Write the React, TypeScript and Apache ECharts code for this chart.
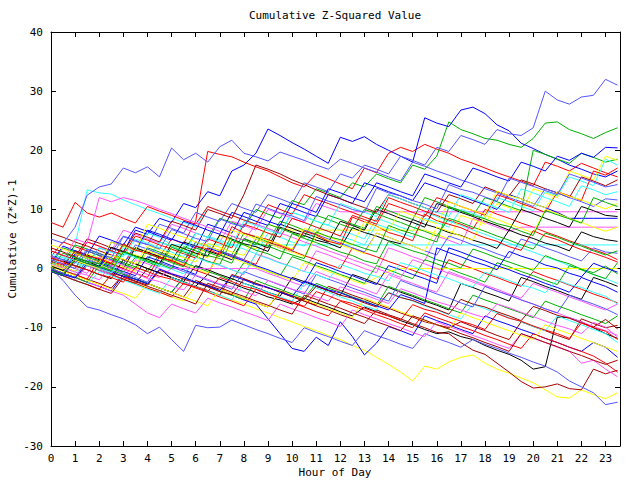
import React, { useEffect, useRef } from "react";
import * as echarts from "echarts";

const TITLE = "Cumulative Z-Squared Value";
const X_NAME = "Hour of Day";
const Y_NAME = "Cumulative (Z*Z)-1";

const HOURS = [
  0, 0.5, 1, 1.5, 2, 2.5, 3, 3.5, 4, 4.5, 5, 5.5,
  6, 6.5, 7, 7.5, 8, 8.5, 9, 9.5, 10, 10.5, 11, 11.5,
  12, 12.5, 13, 13.5, 14, 14.5, 15, 15.5, 16, 16.5, 17, 17.5,
  18, 18.5, 19, 19.5, 20, 20.5, 21, 21.5, 22, 22.5, 23, 23.5,
];

// red
const R1 = [2.0, 4.5, 3.7, 3.0, 2.2, 1.5, 0.8, 3.5, 2.8, 2.0, 5.0, 4.2,
  8.0, 19.8, 19.3, 18.9, 18.0, 17.2, 16.5, 15.5, 14.5, 13.8, 16.0, 15.2,
  14.3, 13.5, 17.0, 16.2, 19.5, 20.5, 19.8, 21.0, 20.2, 19.5, 18.5, 17.8,
  17.0, 16.2, 15.5, 14.8, 14.0, 18.0, 17.3, 16.5, 17.8, 17.0, 16.2, 15.5];
const R2 = [7.8, 7.0, 11.2, 9.4, 8.7, 9.4, 8.5, 7.7, 10.5, 9.7, 9.0, 8.2,
  7.5, 10.5, 9.7, 9.0, 8.2, 7.5, 10.8, 10.0, 9.2, 12.5, 11.7, 11.0,
  10.2, 9.5, 8.7, 8.0, 12.0, 11.2, 10.5, 9.7, 9.0, 8.2, 7.5, 6.7,
  10.0, 9.2, 8.5, 7.7, 7.0, 6.2, 5.5, 4.7, 4.0, 3.2, 2.5, 1.5];
const R3 = [0.5, -0.3, -1.0, -1.8, 1.5, 0.8, 0.0, -0.8, -1.5, 2.0, 1.2, 0.5,
  -0.3, -1.0, 3.0, 2.2, 1.5, 0.7, 4.5, 3.8, 3.0, 2.2, 1.5, 0.7,
  0.0, 3.5, 2.7, 2.0, 1.2, 0.5, -0.3, -1.0, -1.8, 1.5, 0.7, 0.0,
  -0.8, -1.5, -2.3, -3.0, -0.5, -1.3, -2.0, -2.8, -3.5, -4.3, -5.0, -5.8];
const R4 = [-0.5, -1.2, -2.0, -2.7, -3.5, -1.0, -1.8, -2.5, -3.3, -4.0, -4.8, -2.5,
  -3.3, -4.0, -4.8, -5.5, -6.3, -3.5, -4.3, -5.0, -5.8, -6.5, -7.3, -8.0,
  -5.5, -6.3, -7.0, -7.8, -8.5, -9.3, -10.0, -7.5, -8.3, -9.0, -9.8, -10.5,
  -11.3, -12.0, -12.8, -13.5, -11.0, -11.8, -12.5, -13.3, -14.0, -14.8, -16.0, -17.5];
const R5 = [3.0, 2.2, 1.5, 4.5, 3.8, 3.0, 2.3, 5.5, 4.8, 4.0, 3.3, 2.5,
  1.8, 5.0, 4.3, 3.5, 7.5, 6.8, 6.0, 5.3, 8.5, 7.8, 7.0, 6.3,
  5.5, 9.0, 8.3, 7.5, 11.0, 10.3, 9.5, 8.8, 12.0, 11.3, 10.5, 9.8,
  9.0, 12.5, 11.8, 11.0, 10.3, 9.5, 13.0, 12.3, 11.5, 16.5, 15.8, 17.0];
const R6 = [1.2, 0.6, 2.9, 2.1, 1.7, 0.9, 4.2, 3.1, 2.6, 1.8, 1.4, 0.5,
  3.8, 3.3, 2.4, 7.1, 6.0, 5.4, 4.9, 4.0, 3.2, 6.3, 5.7, 4.6,
  4.1, 8.7, 7.9, 7.2, 6.1, 5.5, 4.7, 9.2, 8.1, 7.5, 6.9, 6.0,
  5.2, 4.6, 3.7, 3.1, 6.4, 5.5, 4.9, 4.0, 3.2, 2.6, 1.9, 1.1];
const R7 = [1.8, 1.1, 0.4, -0.2, -1.0, -1.5, -2.3, 0.2, -0.5, -1.3, -1.8, -2.6,
  -3.1, -3.9, -1.5, -2.2, -3.0, -3.5, -4.3, -5.0, -5.6, -6.4, -3.9, -4.6,
  -5.4, -5.9, -6.7, -7.4, -8.0, -8.7, -6.1, -6.9, -7.4, -8.2, -8.9, -9.5,
  -10.3, -7.6, -8.4, -8.9, -9.7, -10.4, -11.0, -11.8, -9.2, -10.0, -10.6, -12.0];

// green
const G1 = [1.0, 0.3, -0.5, 2.0, 1.2, 0.5, 3.0, 2.2, 1.5, 4.5, 3.8, 3.0,
  6.0, 5.3, 8.5, 7.8, 7.0, 10.0, 9.2, 8.5, 11.5, 10.8, 13.5, 12.8,
  12.0, 14.5, 13.8, 16.0, 15.2, 14.5, 17.5, 16.8, 19.0, 24.8, 23.5, 22.8,
  22.0, 21.7, 21.0, 20.5, 22.0, 24.6, 24.8, 23.5, 22.8, 22.0, 23.0, 23.8];
const G2 = [1.5, 0.8, 0.0, 3.0, 2.2, 1.5, 0.7, 0.0, 3.5, 2.8, 2.0, 1.3,
  4.5, 3.8, 3.0, 2.3, 6.0, 5.3, 4.5, 8.0, 7.3, 6.5, 5.8, 9.0,
  8.3, 7.5, 6.8, 10.5, 9.8, 9.0, 8.3, 12.0, 11.3, 10.5, 9.8, 9.0,
  12.0, 11.3, 10.5, 9.8, 20.0, 19.3, 18.5, 17.8, 19.5, 18.8, 18.0, 18.5];
const G3 = [2.0, 1.2, 4.0, 3.3, 2.5, 1.8, 1.0, 0.3, -0.5, 2.5, 1.8, 1.0,
  0.3, -0.5, -1.2, -2.0, 1.0, 0.3, -0.5, -1.2, 2.0, 1.3, 0.5, -0.2,
  -1.0, -1.7, -2.5, 0.5, -0.2, -1.0, -1.7, 1.5, 0.8, 0.0, -0.8, -1.5,
  -2.3, 1.0, 0.3, -0.5, -1.2, -2.0, -2.7, 0.5, -0.2, -1.0, -1.7, 1.0];
const G4 = [0.0, -0.8, -1.5, -2.3, 0.5, -0.3, -1.0, -1.8, -2.5, -3.3, -4.0, -1.5,
  -2.3, -3.0, -3.8, -4.5, -5.3, -2.0, -2.8, -3.5, -4.3, -5.0, -2.5, -3.3,
  -4.0, -4.8, -5.5, -6.3, -3.0, -3.8, -4.5, -5.3, -6.0, -6.8, -7.5, -4.5,
  -5.3, -6.0, -6.8, -7.5, -8.3, -5.5, -6.3, -7.0, -7.8, -8.5, -9.3, -8.0];
const G5 = [0.8, 3.5, 2.8, 2.0, 1.3, 0.5, 4.0, 3.3, 2.5, 1.8, 1.0, 0.3,
  3.5, 2.8, 2.0, 5.5, 4.8, 4.0, 7.5, 6.8, 6.0, 5.3, 9.0, 8.3,
  7.5, 6.8, 10.0, 9.3, 8.5, 7.8, 7.0, 6.3, 5.5, 8.5, 7.8, 7.0,
  6.3, 5.5, 4.8, 4.0, 3.3, 6.0, 5.3, 4.5, 3.8, 3.0, 2.3, 3.0];
const G6 = [0.2, 2.6, 1.9, 1.2, 0.8, 0.1, -0.6, 1.9, 1.1, 0.4, 3.6, 2.8,
  2.1, 1.2, 0.7, 4.8, 4.0, 3.1, 2.5, 1.6, 5.9, 5.1, 4.4, 3.6,
  2.8, 2.2, 1.3, 0.8, 4.6, 3.7, 3.0, 2.4, 1.5, 0.9, 0.1, 3.3,
  2.6, 1.8, 1.1, 0.4, -0.3, 2.2, 1.4, 0.8, -0.1, -0.7, 0.4, -0.9];
const G7 = [-0.4, -1.1, 1.6, 0.9, 0.3, -0.4, 2.8, 2.1, 1.3, 0.8, 0.0, 3.7,
  3.0, 2.2, 1.7, 0.9, 5.1, 4.3, 3.8, 3.0, 2.3, 1.7, 6.2, 5.4,
  4.9, 4.1, 3.4, 2.8, 7.3, 6.5, 5.9, 5.2, 4.5, 10.4, 9.7, 9.0,
  8.4, 7.6, 7.1, 6.3, 5.6, 9.8, 9.1, 8.4, 7.7, 12.0, 11.2, 10.5];

// blue
const B1 = [0.0, -0.8, 2.5, 1.8, 1.0, 3.5, 2.8, 6.5, 5.8, 8.5, 7.8, 11.0,
  10.3, 13.0, 12.3, 16.5, 17.5, 19.5, 23.6, 22.5, 21.3, 20.2, 19.0, 17.8,
  22.2, 21.5, 22.3, 21.0, 20.0, 19.0, 18.0, 25.5, 24.6, 24.0, 26.8, 27.3,
  26.2, 24.3, 23.3, 21.2, 20.3, 19.3, 18.5, 17.5, 16.8, 16.0, 15.5, 16.5];
const B2 = [0.0, -0.8, -1.5, -2.3, -3.0, -3.8, -1.0, -1.8, -2.5, -3.3, -4.0, -1.5,
  -2.3, -3.0, -3.8, -4.5, -5.3, -6.0, -8.5, -11.0, -13.5, -14.0, -11.6, -13.0,
  -9.0, -11.5, -14.6, -12.6, -9.8, -10.5, -11.3, -8.0, -8.8, -9.5, -10.3, -11.0,
  -8.0, -8.8, -9.5, -10.3, -11.0, -11.8, -12.5, -13.3, -14.0, -12.5, -13.3, -15.0];
const B3 = [1.0, 3.8, 3.0, 2.3, 5.5, 4.8, 4.0, 7.0, 6.3, 5.5, 4.8, 8.0,
  7.3, 6.5, 5.8, 9.5, 8.8, 8.0, 7.3, 11.0, 10.3, 9.5, 8.8, 12.5,
  11.8, 11.0, 14.5, 13.8, 13.0, 12.3, 11.5, 14.5, 13.8, 13.0, 12.3, 11.5,
  10.8, 10.0, 12.5, 11.8, 11.0, 10.3, 9.5, 8.5, 8.5, 8.5, 8.5, 8.5];
const B4 = [0.5, -0.3, 2.5, 1.8, 1.0, 0.3, -0.5, -1.2, 2.0, 1.3, 0.5, -0.2,
  -1.0, 3.5, 2.8, 2.0, 1.3, 0.5, -0.2, -1.0, -1.7, -2.5, 1.0, 0.3,
  -0.5, -1.2, -2.0, -2.7, 0.5, -0.2, -1.0, -1.7, -2.5, 3.5, 2.8, 2.0,
  1.3, 0.5, -0.2, -1.0, -1.7, -2.5, -3.2, -4.0, -1.5, -2.3, -3.0, -4.0];
const B5 = [-0.5, -1.2, 1.5, 0.8, 0.0, 4.5, 3.8, 3.0, 6.5, 5.8, 5.0, 4.3,
  3.5, 7.5, 6.8, 6.0, 9.5, 8.8, 8.0, 7.3, 11.0, 10.3, 9.5, 13.5,
  12.8, 12.0, 11.3, 14.5, 13.8, 13.0, 12.3, 16.0, 15.3, 14.5, 13.8, 17.0,
  16.3, 15.5, 14.8, 18.0, 17.3, 16.5, 19.0, 18.3, 19.5, 18.8, 20.5, 20.4];
const B6 = [-0.3, -1.0, -1.6, 0.9, 0.2, -0.5, -1.3, -1.8, -2.6, -0.1, -0.9, -1.5,
  -2.3, -2.9, -3.7, -1.2, -1.9, -2.7, -3.2, -4.0, -4.7, -2.1, -2.8, -3.6,
  -4.1, -4.9, -5.6, -6.3, -7.0, -4.4, -5.1, -5.9, 3.5, 2.7, 2.0, 1.2,
  0.6, -0.2, 2.9, 2.1, 1.5, 0.6, 0.1, -0.8, -1.4, 0.9, 0.1, -0.6];

// magenta
const M1 = [3.0, 2.3, 1.5, 4.5, 3.8, 3.0, 6.5, 5.8, 5.0, 4.3, 7.5, 6.8,
  6.0, 5.3, 4.5, 8.0, 7.3, 6.5, 10.0, 9.3, 8.5, 7.8, 11.0, 10.3,
  9.6, 9.6, 9.6, 9.6, 9.6, 9.6, 9.6, 9.6, 9.6, 9.6, 9.6, 9.6,
  9.6, 9.6, 9.6, 9.6, 9.6, 9.6, 9.6, 9.6, 9.6, 9.6, 9.6, 9.6];
const M2 = [-0.5, -1.2, -2.0, 0.5, -0.3, -1.0, -1.8, 1.5, 0.8, 0.0, -0.8, -1.5,
  2.0, 1.3, 0.5, -0.2, -1.0, 2.5, 1.8, 1.0, 0.3, -0.5, 3.0, 2.3,
  1.5, 0.8, 0.0, -0.7, 3.5, 2.8, 2.0, 1.3, 5.5, 4.8, 4.0, 8.5,
  7.8, 7.0, 6.3, 7.0, 7.0, 7.0, 7.0, 7.0, 7.0, 7.0, 7.0, 7.0];
const M3 = [0.0, -0.8, -1.5, -2.3, -3.0, -3.8, -4.5, -6.0, -7.5, -8.3, -6.0, -6.8,
  -7.5, -5.0, -5.8, -6.5, -7.3, -8.0, -8.8, -6.0, -6.8, -7.5, -8.3, -9.0,
  -9.8, -7.0, -7.8, -8.5, -9.3, -10.0, -10.8, -11.5, -9.0, -9.8, -10.5, -11.3,
  -12.0, -12.8, -13.5, -11.0, -11.8, -12.5, -13.3, -14.0, -16.0, -15.5, -17.0, -18.3];
const M4 = [1.5, 0.8, 0.0, -0.8, 2.0, 1.3, 0.5, -0.2, -1.0, -1.5, 0.0, 0.0,
  0.0, 0.0, 0.0, 0.0, 0.0, 0.0, -0.8, -1.5, -2.3, -3.0, -0.5, -1.3,
  -2.0, -2.8, -3.5, -4.3, -1.0, -1.8, -2.5, -3.3, -4.0, -0.5, -1.3, -2.0,
  -2.8, -3.5, -4.3, -5.0, -2.5, -3.3, -4.0, -4.8, -5.5, -6.3, -7.0, -6.0];
const M5 = [2.0, 1.3, 5.0, 4.3, 12.0, 11.3, 12.0, 11.5, 10.8, 10.0, 9.3, 8.5,
  7.8, 7.0, 6.3, 5.5, 4.8, 7.5, 6.8, 6.0, 5.3, 4.5, 3.8, 3.0,
  2.3, 1.5, 0.8, 0.0, -0.7, -1.5, 1.5, 0.8, 0.0, -0.8, -1.5, -2.3,
  -3.0, -3.8, -4.5, -5.3, -6.0, -6.8, -7.5, -8.3, -9.0, -9.8, -10.5, -11.3];
const M6 = [0.7, 0.1, -0.6, -1.1, -1.9, 0.6, -0.2, -0.8, -1.7, -2.2, -3.0, -3.6,
  -1.1, -1.8, -2.6, -3.1, -3.9, -4.6, -2.0, -2.7, -3.5, -4.0, -4.8, -5.5,
  -3.1, -3.8, -4.4, -5.2, -5.9, -3.4, -4.1, -4.9, -5.6, -6.2, -7.0, -7.7,
  -8.3, -6.0, -6.6, -7.4, -8.1, -8.9, -9.6, -10.2, -11.0, -9.1, -9.9, -11.6];

// cyan
const C1 = [1.0, 0.3, 4.0, 13.3, 12.8, 12.6, 11.6, 10.8, 10.0, 9.3, 8.5, 7.8,
  7.0, 10.5, 9.8, 9.0, 8.3, 7.5, 6.8, 6.0, 9.5, 8.8, 8.0, 7.3,
  6.5, 5.8, 5.0, 8.5, 7.8, 7.0, 6.3, 9.5, 8.8, 8.0, 7.3, 6.5,
  5.8, 5.0, 4.3, 3.5, 2.8, 2.0, 1.3, 0.5, -0.2, -1.0, -1.7, -2.5];
const C2 = [0.5, -0.3, -1.0, 2.0, 1.3, 0.5, 3.5, 2.8, 6.0, 5.3, 4.0, 4.0,
  4.0, 4.0, 4.0, 4.0, 4.0, 4.0, 4.0, 4.0, 4.0, 4.0, 4.0, 4.0,
  4.0, 4.0, 4.0, 4.0, 4.0, 4.0, 4.0, 4.0, 4.0, 4.0, 4.0, 4.0,
  4.0, 4.0, 4.0, 4.0, 4.0, 4.0, 4.0, 4.0, 4.0, 4.0, 4.0, 4.0];
const C3 = [0.0, -0.8, 2.0, 1.3, 0.5, 3.5, 2.8, 2.0, 1.3, 4.5, 3.8, 3.0,
  2.3, 5.5, 4.8, 4.0, 3.3, 2.5, 6.0, 5.3, 4.5, 3.8, 7.0, 6.3,
  5.5, 4.8, 4.0, 7.5, 6.8, 6.0, 5.3, 8.5, 7.8, 7.0, 10.0, 9.3,
  8.5, 12.0, 11.3, 10.5, 9.8, 13.0, 12.3, 15.5, 14.8, 14.0, 18.5, 17.5];
const C4 = [-0.5, -1.2, -2.0, -2.7, -0.5, -1.2, -2.0, -2.7, -3.5, -4.2, -1.5, -2.3,
  -3.0, -3.8, -4.5, -5.3, -2.5, -3.3, -4.0, -4.8, -5.5, -2.5, -3.3, -4.0,
  -4.8, -5.5, -6.3, -7.0, -4.0, -4.8, -5.5, -6.3, -7.0, -7.8, -8.5, -6.0,
  -6.8, -7.5, -8.3, -9.0, -9.8, -10.5, -8.0, -8.8, -9.5, -10.3, -11.0, -12.5];
const C5 = [2.5, 1.8, 1.0, 0.3, 3.5, 2.8, 2.0, 5.0, 4.3, 3.5, 2.8, 2.0,
  6.0, 5.3, 4.5, 3.8, 8.0, 7.3, 6.5, 5.8, 9.5, 8.8, 8.0, 7.3,
  11.0, 10.3, 9.5, 8.8, 12.5, 11.8, 11.0, 10.3, 9.5, 8.8, 12.5, 11.8,
  11.0, 10.3, 9.5, 13.5, 12.8, 12.0, 11.3, 10.5, 14.0, 13.3, 12.5, 13.0];
const C6 = [0.3, 2.0, 1.4, 0.6, 0.0, -0.7, 2.6, 1.8, 1.3, 0.5, -0.1, -0.9,
  1.9, 1.1, 0.6, -0.2, -0.9, 2.4, 1.7, 0.9, 0.3, -0.5, -1.0, -1.8,
  0.7, 0.0, -0.8, -1.3, -2.1, 1.0, 0.4, -0.4, -1.1, -1.7, -2.5, -3.1,
  -0.6, -1.3, -2.0, -2.8, -3.3, -4.1, -1.9, -2.7, -3.2, -4.0, -4.7, -6.0];

// yellow
const Y1 = [-0.5, -1.2, -2.0, -2.7, -3.5, -1.0, -1.8, -2.5, -3.3, -4.0, -4.8, -5.5,
  -3.0, -3.8, -4.5, -5.3, -6.0, -6.8, -7.5, -8.3, -9.0, -9.8, -10.5, -11.3,
  -12.0, -13.0, -13.8, -15.0, -16.2, -17.5, -19.0, -16.5, -17.0, -15.8, -15.0, -14.6,
  -16.0, -17.0, -17.7, -18.5, -19.3, -20.5, -21.7, -21.9, -20.5, -21.3, -22.0, -21.0];
const Y2 = [0.0, -0.8, 2.0, 1.3, 0.5, -0.2, 3.0, 2.3, 1.5, 0.8, 4.0, 3.3,
  2.5, 1.8, 5.5, 4.8, 4.0, 3.3, 7.5, 6.8, 6.5, 6.5, 6.5, 6.5,
  6.5, 6.5, 6.5, 6.5, 6.5, 6.5, 6.5, 6.5, 5.8, 5.0, 9.0, 8.3,
  7.5, 11.0, 10.3, 9.5, 13.5, 12.8, 12.0, 16.5, 15.8, 15.0, 19.0, 18.3];
const Y3 = [1.0, 0.3, -0.5, 2.5, 1.8, 1.0, 0.3, -0.5, 3.0, 2.3, 1.5, 0.8,
  0.0, -0.8, 2.5, 1.8, 1.0, 0.3, -0.5, -1.2, -2.0, 1.0, 0.3, -0.5,
  -1.2, -2.0, -2.7, -1.5, -0.5, 0.0, 0.0, 0.0, 0.0, 0.0, 0.0, 0.0,
  0.0, 0.0, 0.0, 0.0, 0.0, 0.0, 0.0, 0.0, 0.0, 0.0, 0.0, 0.0];
const Y4 = [0.3, -0.5, -1.2, -2.0, -2.7, -3.5, -4.2, -5.0, -2.5, -3.3, -4.0, -4.8,
  -5.5, -6.3, -3.5, -4.3, -5.0, -5.8, -6.5, -3.8, -4.5, -5.3, -6.0, -6.8,
  -7.5, -8.3, -5.0, -5.8, -6.5, -7.3, -8.0, -8.8, -9.5, -10.3, -7.5, -8.3,
  -9.0, -9.8, -10.5, -11.3, -12.0, -9.5, -10.3, -11.0, -11.8, -12.5, -13.3, -14.0];
const Y5 = [4.0, 3.3, 2.5, 1.8, 1.0, 4.5, 3.8, 3.0, 7.5, 6.8, 6.0, 5.3,
  4.5, 3.8, 3.0, 6.5, 5.8, 5.0, 4.3, 3.5, 2.8, 2.0, 5.5, 4.8,
  4.0, 3.3, 2.5, 6.0, 5.3, 4.5, 3.8, 3.0, 7.0, 6.3, 5.5, 4.8,
  9.0, 8.3, 7.5, 6.8, 6.0, 10.0, 9.3, 8.5, 7.8, 7.0, 6.3, 7.0];
const Y6 = [0.6, -0.1, 1.4, 0.7, 0.0, 2.2, 1.6, 0.8, 3.9, 3.2, 2.4, 1.9,
  1.1, 4.3, 3.6, 2.8, 2.2, 5.5, 4.7, 4.1, 3.3, 6.8, 6.0, 5.4,
  4.6, 4.0, 7.9, 7.1, 6.5, 9.7, 9.0, 8.2, 7.6, 11.3, 10.5, 9.8,
  9.2, 13.1, 12.3, 11.8, 11.0, 10.3, 13.0, 12.2, 11.6, 10.8, 10.1, 11.0];

// black
const K1 = [0.0, -0.8, -1.5, 0.5, -0.3, -1.0, -1.8, -2.5, 0.0, -0.8, -1.5, -2.3,
  -3.0, -1.0, -1.8, -2.5, -3.3, -4.0, -4.8, -5.3, -6.0, -5.0, -5.8, -6.5,
  -7.3, -8.0, -6.5, -7.3, -8.0, -8.8, -9.5, -10.3, -11.0, -10.7, -11.5, -12.0,
  -13.0, -13.8, -14.5, -15.5, -17.0, -16.6, -8.2, -8.3, -9.0, -10.0, -11.0, -11.8];
const K2 = [1.0, 0.3, 3.0, 2.3, 1.5, 0.8, 0.0, 3.5, 2.8, 2.0, 1.3, 4.5,
  3.8, 3.0, 2.3, 1.5, 5.0, 4.3, 3.5, 7.5, 6.8, 6.0, 5.3, 4.5,
  8.0, 7.3, 6.5, 10.0, 9.3, 8.5, 7.8, 7.0, 11.0, 10.3, 9.5, 8.8,
  8.0, 7.3, 6.5, 10.0, 9.3, 8.5, 7.8, 7.0, 10.5, 9.8, 9.0, 8.8];
const K3 = [2.0, 1.3, 0.5, -0.2, -1.0, -1.7, 1.5, 0.8, 0.0, -0.7, -1.5, -2.2,
  0.5, -0.2, -1.0, -1.7, -2.5, -3.2, -4.0, -4.7, -1.5, -2.2, -3.0, -3.7,
  -4.5, -1.0, -1.7, -2.5, -3.2, -4.0, -4.7, -5.5, -6.2, -7.0, -2.5, -3.2,
  -4.0, -4.7, -5.5, -1.5, -2.2, -3.0, -3.7, -4.5, -5.2, -1.5, -2.2, -3.0];
const K4 = [0.4, -0.3, 1.8, 1.2, 0.4, 3.6, 2.9, 2.1, 1.6, 0.8, 4.1, 3.4,
  2.6, 2.1, 5.7, 5.0, 4.2, 3.7, 2.9, 7.0, 6.2, 5.6, 4.8, 4.3,
  3.5, 6.9, 6.1, 5.5, 4.7, 4.2, 8.3, 7.5, 6.9, 6.1, 5.6, 4.8,
  4.2, 3.4, 6.5, 5.7, 5.1, 4.3, 3.8, 3.0, 6.2, 5.4, 4.9, 4.6];

// dark red
const D1 = [0.5, -0.3, -1.0, -1.8, -2.5, -3.3, -1.0, -1.8, -2.5, -3.3, -4.0, -4.8,
  -2.0, -2.8, -3.5, -4.3, -5.0, -5.8, -6.5, -4.0, -4.8, -5.5, -6.3, -7.0,
  -7.8, -8.5, -9.3, -7.0, -7.8, -8.5, -9.3, -10.0, -10.8, -11.0, -12.5, -13.8,
  -14.5, -16.0, -17.5, -19.1, -20.2, -20.0, -19.5, -20.3, -20.5, -17.0, -17.8, -17.2];
const D2 = [6.0, 5.3, 4.5, 3.8, 3.0, 2.3, 1.5, 0.8, 0.0, -0.7, -1.5, -2.2,
  -3.0, -3.7, -4.5, -1.0, -1.7, -2.5, -3.2, -4.0, -4.7, -5.5, -6.2, -3.0,
  -3.7, -4.5, -5.2, -6.0, -6.7, -7.5, -8.2, -9.0, -9.5, -10.0, -9.0, -9.8,
  -10.5, -11.3, -12.0, -9.0, -9.8, -10.5, -11.3, -12.0, -8.5, -9.3, -10.0, -9.6];
const D3 = [3.5, 2.8, 2.0, 5.0, 4.3, 3.5, 2.8, 6.0, 5.3, 4.5, 8.0, 7.3,
  6.5, 10.0, 9.3, 8.5, 12.5, 17.5, 16.8, 16.0, 15.0, 14.2, 13.3, 12.5,
  11.8, 11.0, 10.3, 9.5, 12.5, 11.8, 11.0, 10.3, 9.5, 12.5, 11.8, 11.0,
  13.8, 13.0, 12.3, 15.0, 14.3, 13.5, 12.8, 12.0, 15.5, 14.8, 14.0, 15.0];
const D4 = [-0.5, -1.2, -2.0, -2.7, -3.5, -4.2, -1.5, -2.2, -3.0, -3.7, -4.5, -5.2,
  -6.0, -2.5, -3.2, -4.0, -4.7, -5.5, -6.2, -7.0, -7.7, -4.5, -5.2, -6.0,
  -6.7, -7.5, -8.2, -9.0, -9.7, -10.5, -8.0, -8.7, -9.5, -10.2, -11.0, -11.7,
  -12.5, -13.2, -14.0, -11.0, -11.7, -12.5, -13.2, -14.0, -14.7, -15.5, -16.2, -15.5];
const D5 = [-0.2, -0.9, 1.3, 0.6, 0.0, -0.8, -1.3, -2.1, -2.8, -0.3, -1.0, -1.8,
  -2.4, -3.1, -3.9, -4.4, -1.8, -2.5, -3.3, -3.8, -4.6, -5.3, -3.0, -3.7,
  -4.5, -5.0, -5.8, -6.5, -4.1, -4.9, -5.4, -6.2, -6.9, -7.7, -5.2, -6.0,
  -6.5, -7.3, -8.0, -8.8, -6.4, -7.1, -7.9, -8.4, -9.2, -9.9, -8.6, -10.2];

// light blue
const L1 = [0.5, -0.3, 1.5, 0.8, 3.5, 2.8, 5.5, 4.8, 4.0, 7.5, 6.8, 6.0,
  9.5, 8.7, 8.0, 11.0, 10.2, 9.5, 12.5, 11.8, 11.0, 14.5, 13.8, 13.0,
  16.0, 15.3, 17.5, 16.8, 16.0, 19.0, 18.3, 17.5, 20.5, 19.8, 22.5, 21.8,
  21.0, 23.5, 22.8, 22.5, 23.8, 30.0, 28.5, 27.8, 29.0, 29.3, 32.0, 31.0];
const L2 = [0.0, -2.0, -4.5, -6.5, -7.0, -7.8, -8.5, -9.5, -11.0, -9.9, -12.0, -14.0,
  -9.6, -10.0, -9.9, -8.7, -9.5, -10.3, -11.0, -11.8, -12.5, -10.0, -10.8, -11.5,
  -12.3, -13.0, -10.5, -11.3, -12.0, -12.8, -13.5, -11.0, -11.8, -12.5, -13.3, -12.0,
  -12.8, -13.5, -14.3, -15.0, -15.8, -16.5, -17.5, -19.0, -20.0, -21.0, -23.0, -22.6];
const L3 = [5.0, 4.3, 7.0, 12.4, 13.8, 14.3, 17.0, 16.2, 17.2, 15.5, 20.4, 18.4,
  19.5, 18.0, 20.6, 21.7, 19.5, 18.9, 18.2, 19.7, 19.0, 18.3, 17.5, 16.8,
  18.5, 17.8, 17.0, 16.3, 15.5, 14.8, 18.0, 17.3, 16.5, 15.8, 15.0, 14.3,
  13.5, 12.8, 12.0, 11.3, 10.5, 13.5, 12.8, 12.0, 11.3, 10.5, 11.8, 11.6];
const L4 = [1.5, 0.8, 0.0, 3.0, 2.3, 1.5, 0.8, 4.0, 3.3, 2.5, 1.8, 1.0,
  4.5, 3.8, 3.0, 2.3, 1.5, 5.0, 4.3, 3.5, 2.8, 6.5, 5.8, 5.0,
  4.3, 3.5, 2.8, 6.0, 5.3, 4.5, 3.8, 3.0, 2.3, 5.5, 4.8, 4.0,
  3.3, 2.5, 1.8, 5.0, 4.3, 3.5, 2.8, 2.0, 1.3, 3.5, 2.8, 2.6];
const L5 = [0.0, -0.8, -1.5, 1.5, 0.8, 0.0, -0.8, -1.5, -2.3, 1.0, 0.3, -0.5,
  -1.2, -2.0, -2.7, -3.5, -0.5, -1.3, -2.0, -2.8, -3.5, -4.3, -1.0, -1.8,
  -2.5, -3.3, -4.0, -4.8, -5.5, -2.0, -2.8, -3.5, -4.3, -5.0, -5.8, -6.5,
  -3.0, -3.8, -4.5, -5.3, -6.0, -6.8, -7.5, -4.5, -5.3, -6.0, -6.8, -7.8];
const L6 = [2.2, 1.5, 0.9, 3.3, 2.6, 1.8, 5.4, 4.6, 4.1, 3.3, 6.6, 5.9,
  5.1, 4.6, 8.4, 7.6, 7.0, 10.9, 10.2, 9.4, 8.9, 8.1, 12.2, 11.4,
  10.8, 10.0, 9.5, 13.6, 12.8, 12.3, 11.5, 10.9, 10.1, 14.2, 13.4, 12.9,
  12.1, 11.4, 15.3, 14.6, 13.9, 13.2, 12.5, 16.0, 15.3, 14.6, 13.8, 14.2];

const COLORS = {
  red: "#ff0000",
  green: "#00b000",
  blue: "#0000ff",
  magenta: "#ff55ff",
  cyan: "#33ffff",
  yellow: "#ffff00",
  black: "#000000",
  darkred: "#a00000",
  lightblue: "#5555ff",
};

const SERIES: { name: string; color: string; values: number[] }[] = [
  { name: "R1", color: COLORS.red, values: R1 },
  { name: "G1", color: COLORS.green, values: G1 },
  { name: "B1", color: COLORS.blue, values: B1 },
  { name: "M1", color: COLORS.magenta, values: M1 },
  { name: "C1", color: COLORS.cyan, values: C1 },
  { name: "Y1", color: COLORS.yellow, values: Y1 },
  { name: "K1", color: COLORS.black, values: K1 },
  { name: "D1", color: COLORS.darkred, values: D1 },
  { name: "L1", color: COLORS.lightblue, values: L1 },
  { name: "R2", color: COLORS.red, values: R2 },
  { name: "G2", color: COLORS.green, values: G2 },
  { name: "B2", color: COLORS.blue, values: B2 },
  { name: "M2", color: COLORS.magenta, values: M2 },
  { name: "C2", color: COLORS.cyan, values: C2 },
  { name: "Y2", color: COLORS.yellow, values: Y2 },
  { name: "K2", color: COLORS.black, values: K2 },
  { name: "D2", color: COLORS.darkred, values: D2 },
  { name: "L2", color: COLORS.lightblue, values: L2 },
  { name: "R3", color: COLORS.red, values: R3 },
  { name: "G3", color: COLORS.green, values: G3 },
  { name: "B3", color: COLORS.blue, values: B3 },
  { name: "M3", color: COLORS.magenta, values: M3 },
  { name: "C3", color: COLORS.cyan, values: C3 },
  { name: "Y3", color: COLORS.yellow, values: Y3 },
  { name: "K3", color: COLORS.black, values: K3 },
  { name: "D3", color: COLORS.darkred, values: D3 },
  { name: "L3", color: COLORS.lightblue, values: L3 },
  { name: "R4", color: COLORS.red, values: R4 },
  { name: "G4", color: COLORS.green, values: G4 },
  { name: "B4", color: COLORS.blue, values: B4 },
  { name: "M4", color: COLORS.magenta, values: M4 },
  { name: "C4", color: COLORS.cyan, values: C4 },
  { name: "Y4", color: COLORS.yellow, values: Y4 },
  { name: "K4", color: COLORS.black, values: K4 },
  { name: "D4", color: COLORS.darkred, values: D4 },
  { name: "L4", color: COLORS.lightblue, values: L4 },
  { name: "R5", color: COLORS.red, values: R5 },
  { name: "G5", color: COLORS.green, values: G5 },
  { name: "B5", color: COLORS.blue, values: B5 },
  { name: "M5", color: COLORS.magenta, values: M5 },
  { name: "C5", color: COLORS.cyan, values: C5 },
  { name: "Y5", color: COLORS.yellow, values: Y5 },
  { name: "D5", color: COLORS.darkred, values: D5 },
  { name: "L5", color: COLORS.lightblue, values: L5 },
  { name: "R6", color: COLORS.red, values: R6 },
  { name: "G6", color: COLORS.green, values: G6 },
  { name: "B6", color: COLORS.blue, values: B6 },
  { name: "M6", color: COLORS.magenta, values: M6 },
  { name: "C6", color: COLORS.cyan, values: C6 },
  { name: "Y6", color: COLORS.yellow, values: Y6 },
  { name: "L6", color: COLORS.lightblue, values: L6 },
  { name: "R7", color: COLORS.red, values: R7 },
  { name: "G7", color: COLORS.green, values: G7 },
];

const FONT = "'DejaVu Sans Mono', monospace";

export default function App() {
  const ref = useRef<HTMLDivElement>(null);

  useEffect(() => {
    if (!ref.current) return;
    const chart = echarts.init(ref.current, null, { renderer: "svg" });

    const tick = { show: true, inside: true, length: 5, lineStyle: { color: "#000", width: 1 } };
    const line = { show: true, onZero: false, lineStyle: { color: "#000", width: 1 } };
    const xBase = {
      type: "value" as const,
      min: 0,
      max: 23.6,
      interval: 1,
      splitLine: { show: false },
      axisLine: line,
      axisTick: tick,
    };
    const yBase = {
      type: "value" as const,
      min: -30,
      max: 40,
      interval: 10,
      splitLine: { show: false },
      axisLine: line,
      axisTick: tick,
    };

    chart.setOption({
      animation: false,
      backgroundColor: "#ffffff",
      grid: { left: 51, right: 20, top: 32, bottom: 34, containLabel: false },
      xAxis: [
        {
          ...xBase,
          position: "bottom",
          axisLabel: {
            show: true,
            margin: 7,
            color: "#000",
            fontFamily: FONT,
            fontSize: 11,
            formatter: (v: number) => (Number.isInteger(v) ? String(v) : ""),
          },
        },
        { ...xBase, position: "top", axisLabel: { show: false } },
      ],
      yAxis: [
        {
          ...yBase,
          position: "left",
          axisLabel: {
            show: true,
            margin: 8,
            color: "#000",
            fontFamily: FONT,
            fontSize: 11,
          },
        },
        { ...yBase, position: "right", axisLabel: { show: false } },
      ],
      graphic: [
        {
          type: "text",
          x: 335,
          y: 15,
          style: {
            text: TITLE,
            fill: "#000",
            font: `11px ${FONT}`,
            textAlign: "center",
            textVerticalAlign: "middle",
          },
        },
        {
          type: "text",
          x: 335,
          y: 472,
          style: {
            text: X_NAME,
            fill: "#000",
            font: `11px ${FONT}`,
            textAlign: "center",
            textVerticalAlign: "middle",
          },
        },
        {
          type: "text",
          x: 12,
          y: 239,
          rotation: Math.PI / 2,
          style: {
            text: Y_NAME,
            fill: "#000",
            font: `11px ${FONT}`,
            textAlign: "center",
            textVerticalAlign: "middle",
          },
        },
      ],
      series: SERIES.map((s) => ({
        name: s.name,
        type: "line",
        xAxisIndex: 0,
        yAxisIndex: 0,
        showSymbol: false,
        symbol: "none",
        silent: true,
        lineStyle: { color: s.color, width: 1 },
        itemStyle: { color: s.color },
        data: s.values.map((v, i) => [HOURS[i], v]),
      })),
    });

    return () => chart.dispose();
  }, []);

  return (
    <div
      ref={ref}
      style={{ position: "fixed", left: 0, top: 0, width: 640, height: 480, background: "#fff" }}
    />
  );
}
